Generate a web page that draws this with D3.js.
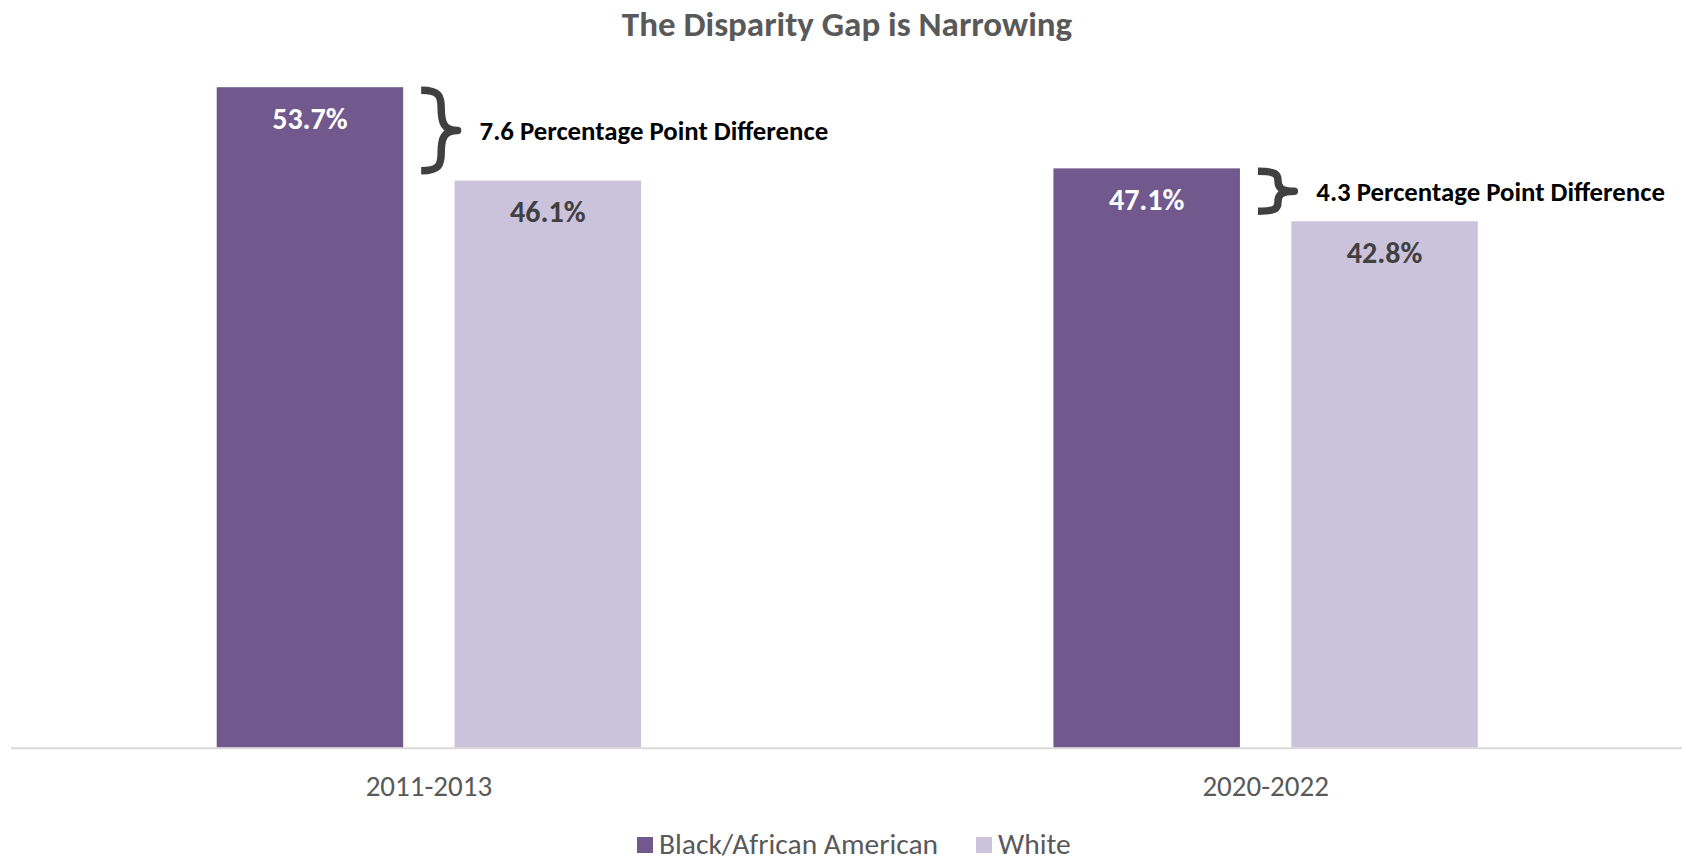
<!DOCTYPE html>
<html>
<head>
<meta charset="utf-8">
<script src="https://cdn.jsdelivr.net/npm/d3@7"></script>
<style>
  body { margin: 0; background: #fff; }
  svg { display: block; font-family: Carlito, Lato, sans-serif; }
</style>
</head>
<body>
<script>
// data
const periods = ["2011-2013", "2020-2022"];
const groups = ["Black/African American", "White"];
const black = [53.7, 47.1];
const white = [46.1, 42.8];
const gapNotes = ["7.6 Percentage Point Difference", "4.3 Percentage Point Difference"];

const colors = ["#71598e", "#cbc2db"];
const labelColors = ["#ffffff", "#404040"];

const width = 1682, height = 861;
const margin = {top: 10, right: -2, bottom: 113, left: 10.5};

const svg = d3.select("body").append("svg")
    .attr("width", width)
    .attr("height", height);

const x0 = d3.scaleBand()
    .domain(periods)
    .range([margin.left, width - margin.right])
    .paddingInner(0).paddingOuter(0);

// bars sit in the middle of each band
const x1 = d3.scaleBand()
    .domain(groups)
    .range([206.2, x0.bandwidth() - 206.2])
    .paddingInner(0.216);

const y = d3.scaleLinear()
    .domain([0, 60])
    .range([height - margin.bottom - 0.3, 9.7]);

const rows = periods.map((p, i) => ({
  period: p,
  values: [black[i], white[i]],
  note: gapNotes[i]
}));

svg.append("text")
    .attr("x", 847)
    .attr("y", 24)
    .attr("text-anchor", "middle")
    .attr("dominant-baseline", "central")
    .attr("fill", "#595959")
    .attr("font-weight", "bold")
    .attr("font-size", 35)
    .text("The Disparity Gap is Narrowing");

const g = svg.append("g")
  .selectAll("g")
  .data(rows)
  .join("g")
    .attr("transform", d => `translate(${x0(d.period)},0)`);

g.selectAll("rect")
  .data(d => d.values.map((v, i) => ({v, i})))
  .join("rect")
    .attr("x", d => x1(groups[d.i]))
    .attr("y", d => y(d.v))
    .attr("width", x1.bandwidth())
    .attr("height", d => y(0) - y(d.v))
    .attr("fill", d => colors[d.i]);

g.selectAll("text.val")
  .data(d => d.values.map((v, i) => ({v, i})))
  .join("text")
    .attr("class", "val")
    .attr("x", d => x1(groups[d.i]) + x1.bandwidth() / 2)
    .attr("y", d => y(d.v) + 31)
    .attr("text-anchor", "middle")
    .attr("dominant-baseline", "central")
    .attr("font-weight", "bold")
    .attr("font-size", 30)
    .attr("fill", d => labelColors[d.i])
    .text(d => d.v.toFixed(1) + "%");

// curly brace "}" from y1 to y2, tip pointing right
function brace(x0, y1, y2, w) {
  const xm = x0 + w * 0.55, ym = (y1 + y2) / 2, hh = ym - y1;
  return `M${x0},${y1} C${x0 + w * 0.5},${y1} ${xm},${y1 + hh * 0.15} ${xm},${y1 + hh * 0.45}` +
         ` C${xm},${ym - hh * 0.2} ${x0 + w * 0.62},${ym} ${x0 + w},${ym}` +
         ` C${x0 + w * 0.62},${ym} ${xm},${ym + hh * 0.2} ${xm},${y2 - hh * 0.45}` +
         ` C${xm},${y2 - hh * 0.15} ${x0 + w * 0.5},${y2} ${x0},${y2}`;
}

g.append("path")
    .attr("d", d => {
      const bx = x1(groups[0]) + x1.bandwidth() + 18;
      const tip = x1(groups[1]) + 3;
      return brace(bx, y(d.values[0]) + 3, y(d.values[1]) - 10, tip - bx);
    })
    .attr("fill", "none")
    .attr("stroke", "#404040")
    .attr("stroke-width", 7.5)
    .attr("stroke-linejoin", "round");

g.append("text")
    .attr("x", x1(groups[1]) + 25)
    .attr("y", d => (y(d.values[0]) + y(d.values[1])) / 2 - 3)
    .attr("dominant-baseline", "central")
    .attr("font-weight", "bold")
    .attr("font-size", 26.8)
    .attr("fill", "#000")
    .text(d => d.note);

// axis
const axis = svg.append("g")
    .attr("transform", `translate(0,${y(0)})`)
    .call(d3.axisBottom(x0).tickSize(0).tickPadding(28));
axis.select(".domain").attr("stroke", "#d9d9d9").attr("stroke-width", 2);
axis.selectAll("text")
    .attr("font-family", "Carlito, Lato, sans-serif")
    .attr("font-size", 29)
    .attr("fill", "#595959");

// legend
const legendX = [637, 976];
const leg = svg.append("g")
  .selectAll("g")
  .data(groups)
  .join("g")
    .attr("transform", (d, i) => `translate(${legendX[i]},837)`);
leg.append("rect")
    .attr("width", 16).attr("height", 16)
    .attr("fill", (d, i) => colors[i]);
leg.append("text")
    .attr("x", 22)
    .attr("y", 7)
    .attr("dominant-baseline", "central")
    .attr("font-size", 29.5)
    .attr("fill", "#595959")
    .text(d => d);
</script>
</body>
</html>
